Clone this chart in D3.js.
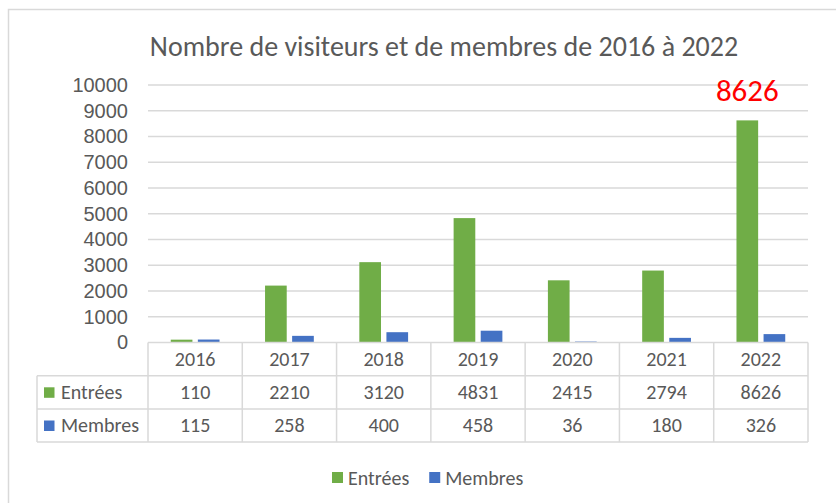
<!DOCTYPE html>
<html>
<head>
<meta charset="utf-8">
<script src="https://cdn.jsdelivr.net/npm/d3@7"></script>
<style>
  body { margin: 0; background: #fff; }
  svg { font-family: Calibri, Carlito, 'Open Sans', sans-serif; }
</style>
</head>
<body>
<div id="chart"></div>
<script>
const years = ['2016', '2017', '2018', '2019', '2020', '2021', '2022']
const seriesNames = ['Entrées', 'Membres']
const entrees = [110, 2210, 3120, 4831, 2415, 2794, 8626]
const membres = [115, 258, 400, 458, 36, 180, 326]
const yTicks = [0, 1000, 2000, 3000, 4000, 5000, 6000, 7000, 8000, 9000, 10000]
const title = 'Nombre de visiteurs et de membres de 2016 à 2022'
const highlight = { year: '2022', series: 'Entrées', value: 8626 }

const colors = { 'Entrées': '#70AD47', 'Membres': '#4472C4' }
const seriesValues = { 'Entrées': entrees, 'Membres': membres }

const svgWidth = 836
const svgHeight = 503
const margin = { top: 85, right: 28, bottom: 160.5, left: 148 }
const width = svgWidth - margin.left - margin.right
const height = svgHeight - margin.top - margin.bottom
const textColor = '#595959'
const lineColor = '#d9d9d9'
const fontSize = 20

let svg = d3.select('#chart').append('svg')
    .attr('width', svgWidth)
    .attr('height', svgHeight)

// chart area border
svg.append('rect')
    .attr('x', 8.5).attr('y', 9.5)
    .attr('width', svgWidth + 20).attr('height', svgHeight + 20)
    .attr('fill', '#fff')
    .attr('stroke', lineColor)
    .attr('stroke-width', 1.5)

svg.append('text')
    .attr('x', 444).attr('y', 56)
    .attr('text-anchor', 'middle')
    .attr('font-size', 28)
    .attr('font-weight', 300)
    .attr('fill', textColor)
    .text(title)

let g = svg.append('g')
    .attr('transform', 'translate(' + margin.left + ', ' + margin.top + ')')

let xScale = d3.scaleBand()
    .domain(years)
    .range([0, width])

let xInner = d3.scaleBand()
    .domain(seriesNames)
    .range([0, xScale.bandwidth()])
    .paddingInner(0.2)
    .paddingOuter(0.84)

let yScale = d3.scaleLinear()
    .domain([0, 10000])
    .range([height, 0])

// gridlines
g.append('g').attr('class', 'grid')
    .selectAll('line')
    .data(yTicks.slice(1))
    .enter()
    .append('line')
    .attr('x1', 0).attr('x2', width)
    .attr('y1', (d) => yScale(d)).attr('y2', (d) => yScale(d))
    .attr('stroke', lineColor)
    .attr('stroke-width', 1.3)

// y axis labels
let yAxis = g.append('g').attr('class', 'y-axis')
    .attr('transform', 'translate(-20,0)')
    .call(d3.axisLeft(yScale).tickValues(yTicks).tickFormat(d3.format('d')).tickSize(0).tickPadding(0))
yAxis.select('.domain').remove()
yAxis.selectAll('text')
    .attr('font-size', fontSize)
    .attr('fill', textColor)
    .attr('font-family', null)

// bars
seriesNames.forEach((name) => {
    g.append('g').attr('class', 'bars')
        .selectAll('rect')
        .data(years)
        .enter()
        .append('rect')
        .attr('x', (year) => xScale(year) + xInner(name))
        .attr('y', (year, i) => yScale(seriesValues[name][i]))
        .attr('width', xInner.bandwidth())
        .attr('height', (year, i) => height - yScale(seriesValues[name][i]))
        .attr('fill', colors[name])
})

// highlighted label
g.append('text')
    .attr('x', xScale(highlight.year) + xInner(highlight.series) + xInner.bandwidth() / 2)
    .attr('y', yScale(highlight.value) - 19)
    .attr('text-anchor', 'middle')
    .attr('font-size', 31)
    .attr('fill', '#ff0000')
    .text(highlight.value)

// data table
const rowH = 33.2
const tableLeft = 37 - margin.left
let table = g.append('g').attr('class', 'table')
    .attr('transform', 'translate(0,' + height + ')')

let lines = [
    [0, 0, width, 0],
    [tableLeft, rowH, width, rowH],
    [tableLeft, 2 * rowH, width, 2 * rowH],
    [tableLeft, 3 * rowH, width, 3 * rowH],
    [tableLeft, rowH, tableLeft, 3 * rowH]
]
years.forEach((year) => lines.push([xScale(year), 0, xScale(year), 3 * rowH]))
lines.push([width, 0, width, 3 * rowH])

table.selectAll('line')
    .data(lines)
    .enter()
    .append('line')
    .attr('x1', (d) => d[0]).attr('y1', (d) => d[1])
    .attr('x2', (d) => d[2]).attr('y2', (d) => d[3])
    .attr('stroke', lineColor)
    .attr('stroke-width', 1.5)

table.append('g')
    .selectAll('text')
    .data(years)
    .enter()
    .append('text')
    .attr('x', (year) => xScale(year) + xScale.bandwidth() / 2)
    .attr('y', rowH / 2)
    .attr('dy', '0.35em')
    .attr('text-anchor', 'middle')
    .attr('font-size', fontSize)
    .attr('fill', textColor)
    .text((year) => year)

seriesNames.forEach((name, r) => {
    let row = table.append('g')
        .attr('transform', 'translate(0,' + (rowH * (r + 1)) + ')')
    row.append('rect')
        .attr('x', tableLeft + 7).attr('y', rowH / 2 - 5)
        .attr('width', 10.5).attr('height', 10.5)
        .attr('fill', colors[name])
    row.append('text')
        .attr('x', tableLeft + 24)
        .attr('y', rowH / 2)
        .attr('dy', '0.35em')
        .attr('font-size', fontSize)
        .attr('fill', textColor)
        .text(name)
    row.selectAll('.cell')
        .data(years)
        .enter()
        .append('text')
        .attr('class', 'cell')
        .attr('x', (year) => xScale(year) + xScale.bandwidth() / 2)
        .attr('y', rowH / 2)
        .attr('dy', '0.35em')
        .attr('text-anchor', 'middle')
        .attr('font-size', fontSize)
        .attr('fill', textColor)
        .text((year, i) => seriesValues[name][i])
})

// legend
let legend = svg.append('g').attr('class', 'legend')
    .attr('transform', 'translate(332, 477.5)')
let lx = 0
seriesNames.forEach((name) => {
    let item = legend.append('g').attr('transform', 'translate(' + lx + ',0)')
    item.append('rect')
        .attr('x', 0).attr('y', -5.5)
        .attr('width', 11).attr('height', 11)
        .attr('fill', colors[name])
    let t = item.append('text')
        .attr('x', 16).attr('y', 0)
        .attr('dy', '0.35em')
        .attr('font-size', fontSize)
        .attr('fill', textColor)
        .text(name)
    lx += 16 + t.node().getComputedTextLength() + 20
})
</script>
</body>
</html>
